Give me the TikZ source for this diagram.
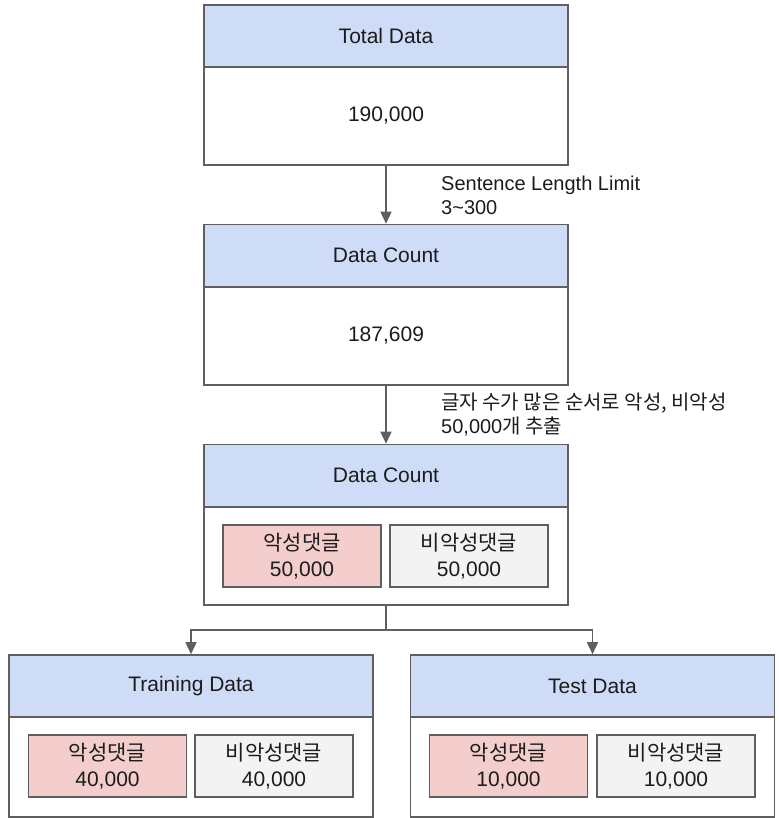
\documentclass[tikz,border=0pt]{standalone}
\usepackage{fontspec}
\setmainfont{Liberation Sans}
\newfontfamily\kr{Noto Sans CJK KR}
\usetikzlibrary{arrows.meta}
\definecolor{headblue}{HTML}{CFDCF8}
\definecolor{toxred}{HTML}{F4CDCD}
\definecolor{cleangrey}{HTML}{F3F3F3}
\definecolor{edge}{HTML}{5F5F5F}
\definecolor{ink}{HTML}{1C1C1C}
\tikzset{
  base/.style={draw=edge, line width=1.6pt, rectangle, inner sep=0pt, text=ink,
    font=\fontsize{21}{26}\selectfont, align=center},
  head/.style={base, fill=headblue, minimum width=364pt, minimum height=62pt},
  body/.style={base, fill=white, minimum width=364pt},
  toxic/.style={base, fill=toxred, minimum width=158pt, minimum height=62pt},
  clean/.style={base, fill=cleangrey, minimum width=158pt, minimum height=62pt},
  arr/.style={draw=edge, line width=1.6pt, -{Triangle[length=12pt,width=11pt]}},
  note/.style={anchor=west, align=left, text=ink, inner sep=0pt,
    font=\fontsize{20}{24}\selectfont}
}
\begin{document}
\begin{tikzpicture}[x=1pt,y=-1pt]
\useasboundingbox (0,0) rectangle (778,818);

% stage 1: raw data
\node[head] (h1) at (386,36) {Total Data};
\node[body, minimum height=98pt] (b1) at (386,116) {190,000};

% stage 2: after length filter
\node[head] (h2) at (386,255.5) {Data Count};
\node[body, minimum height=98pt] (b2) at (386,336) {187,609};

% stage 3: balanced sample
\node[head] (h3) at (386,475.5) {Data Count};
\node[body, minimum height=98pt] (b3) at (386,556) {};
\node[toxic] (t3) at (302,556) {{\kr 악성댓글}\\50,000};
\node[clean] (c3) at (469,556) {{\kr 비악성댓글}\\50,000};

% stage 4: split
\node[head] (h4) at (191,686) {Training Data};
\node[body, minimum height=100pt] (b4) at (191,767) {};
\node[toxic] (t4) at (107.5,766) {{\kr 악성댓글}\\40,000};
\node[clean] (c4) at (274,766) {{\kr 비악성댓글}\\40,000};

\node[head] (h5) at (592.5,686) {Test Data};
\node[body, minimum height=100pt] (b5) at (592.5,767) {};
\node[toxic] (t5) at (508.5,766) {{\kr 악성댓글}\\10,000};
\node[clean] (c5) at (676,766) {{\kr 비악성댓글}\\10,000};

% connectors
\draw[arr] (b1.south) -- (h2.north);
\draw[arr] (b2.south) -- (h3.north);
\coordinate (fork) at (386,630);
\draw[draw=edge, line width=1.6pt] (b3.south) -- (fork);
\draw[arr] (fork) -| (h4.north);
\draw[arr] (fork) -| (h5.north);

% step labels
\node[note] (n1) at (441,195) {Sentence Length Limit\\3\textasciitilde300};
\node[note] (n2) at (441,415) {{\kr 글자 수가 많은 순서로 악성, 비악성}\\50,000{\kr 개 추출}};
\end{tikzpicture}
\end{document}
